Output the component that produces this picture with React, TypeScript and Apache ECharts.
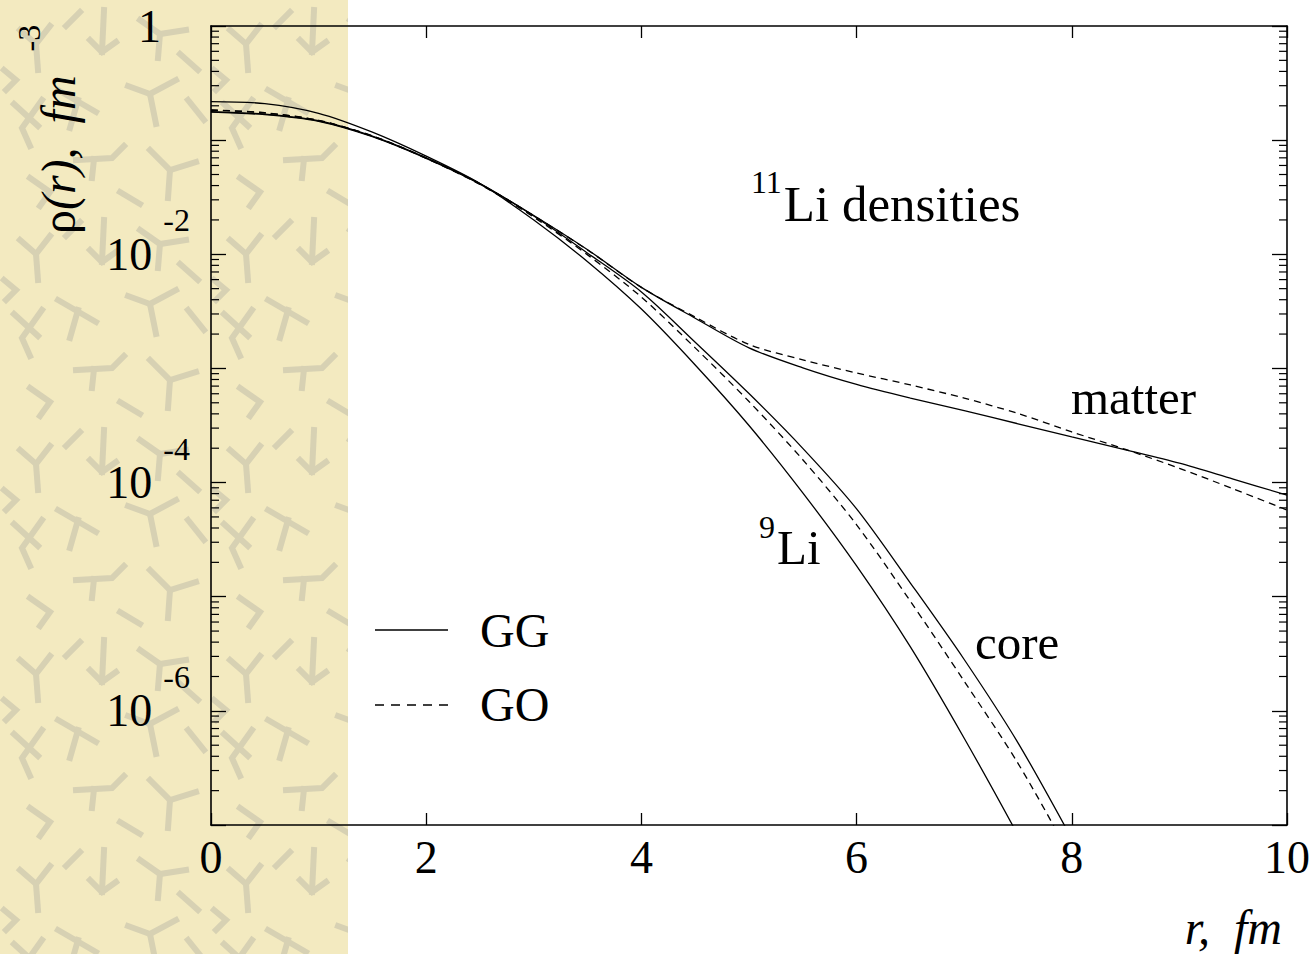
import React, { useEffect, useRef } from 'react';
import * as echarts from 'echarts';

// radius r (fm)
const R = [0, 0.5, 1, 1.5, 2, 2.5, 3, 3.5, 4, 4.5, 5, 5.5, 6, 6.5, 7, 7.5, 8, 8.5, 9, 9.5, 10];

// densities rho(r), fm^-3
const LI9 = [0.2173, 0.2089, 0.1718, 0.1175, 0.07244, 0.04169, 0.01995, 0.00861, 0.003311, 0.001072,
  3.162e-4, 8.128e-5, 1.862e-5, 3.631e-6, 5.754e-7, 8.128e-8, 1.047e-8, null, null, null, null];
const CORE_GG = [0.1758, 0.1671, 0.1462, 0.1072, 0.06918, 0.04121, 0.02163, 0.01023, 0.004677, 0.001698,
  6.026e-4, 1.995e-4, 5.888e-5, 1.318e-5, 2.818e-6, 5.248e-7, 7.586e-8, 1.0e-8, null, null, null];
const CORE_GO = [0.1828, 0.173, 0.1486, 0.1084, 0.06918, 0.04093, 0.02113, 0.009886, 0.004217, 0.001514,
  5.129e-4, 1.585e-4, 4.266e-5, 9.12e-6, 1.82e-6, 3.467e-7, 5.012e-8, 6.0e-9, null, null, null];
const MATTER_GG = [0.1778, 0.169, 0.1479, 0.1084, 0.06998, 0.04169, 0.02188, 0.01096, 0.005129, 0.002754,
  0.001514, 0.001012, 7.244e-4, 5.495e-4, 4.266e-4, 3.273e-4, 2.512e-4, 1.936e-4, 1.479e-4, 1.072e-4, 7.762e-5];
const MATTER_GO = [0.1837, 0.1738, 0.1493, 0.1091, 0.06998, 0.0415, 0.02178, 0.01091, 0.005129, 0.002818,
  0.001622, 0.001189, 9.12e-4, 7.161e-4, 5.495e-4, 4.027e-4, 2.78e-4, 1.95e-4, 1.334e-4, 8.81e-5, 5.754e-5];

const X_TICKS = [0, 2, 4, 6, 8, 10];
const Y_LABEL_EXPONENTS = [0, -2, -4, -6];
const Y_MIN_EXP = -7;
const Y_MAX_EXP = 0;

const FONT = "'Liberation Serif', 'DejaVu Serif', serif";

function toPairs(vals: (number | null)[]) {
  const out: number[][] = [];
  R.forEach((r, i) => {
    const v = vals[i];
    if (v != null) out.push([r, v]);
  });
  return out;
}

function makePattern(): string {
  const c = document.createElement('canvas');
  c.width = 210;
  c.height = 210;
  const g = c.getContext('2d');
  if (!g) return '';
  g.fillStyle = '#F3EAC0';
  g.fillRect(0, 0, 210, 210);
  g.strokeStyle = '#D7D1B3';
  g.lineWidth = 6;
  g.lineCap = 'square';
  g.lineJoin = 'miter';
  const polys: number[][][] = [
    [[20, 30], [36, 44], [50, 26]],
    [[36, 44], [38, 70]],
    [[104, 10], [102, 52]],
    [[90, 40], [102, 52], [116, 42]],
    [[58, 90], [96, 112]],
    [[78, 100], [70, 128]],
    [[14, 104], [38, 126]],
    [[42, 100], [22, 128], [30, 146]],
    [[128, 86], [150, 94], [176, 80]],
    [[150, 94], [156, 124]],
    [[76, 160], [112, 158], [124, 146]],
    [[94, 159], [92, 178]],
    [[66, 26], [80, 12]],
    [[4, 70], [16, 80], [6, 90]],
    [[150, 150], [170, 170], [196, 162]],
    [[170, 170], [168, 198]],
    [[140, 20], [160, 34], [186, 30]],
    [[160, 34], [158, 58]],
    [[188, 100], [204, 120]],
    [[30, 178], [50, 192], [40, 206]],
    [[120, 192], [140, 204]],
    [[180, 54], [198, 70]],
  ];
  polys.forEach((p) => {
    g.beginPath();
    g.moveTo(p[0][0], p[0][1]);
    for (let i = 1; i < p.length; i++) g.lineTo(p[i][0], p[i][1]);
    g.stroke();
  });
  return c.toDataURL();
}

export default function App() {
  const ref = useRef<HTMLDivElement>(null);

  useEffect(() => {
    if (!ref.current) return;
    const chart = echarts.init(ref.current, null, { renderer: 'svg' });

    let patternFill: any = '#F0E7BE';
    try {
      const src = makePattern();
      if (src) patternFill = { image: src, repeat: 'repeat', imageWidth: 210, imageHeight: 210 };
    } catch (e) {
      patternFill = '#F0E7BE';
    }

    const minorVals: number[][] = [];
    for (let d = Y_MIN_EXP; d < Y_MAX_EXP; d++) {
      for (let k = 2; k <= 9; k++) minorVals.push([0, k * Math.pow(10, d)]);
    }

    const lineSeries = (name: string, vals: (number | null)[], dashed: boolean) => ({
      name,
      type: 'line',
      data: toPairs(vals),
      showSymbol: false,
      symbol: 'none',
      smooth: 0.3,
      clip: true,
      silent: true,
      z: 3,
      lineStyle: { color: '#000', width: 1.3, type: dashed ? [7, 5] : 'solid' },
    });

    const axisLineStyle = { color: '#000', width: 1.6 };
    const tickStyle = { color: '#000', width: 1.3 };

    const option: any = {
      animation: false,
      backgroundColor: '#ffffff',
      grid: { left: 211, right: 24, top: 26, bottom: 129, containLabel: false },
      xAxis: [
        {
          type: 'value', min: 0, max: 10, interval: 2, position: 'bottom',
          axisLine: { show: true, onZero: false, lineStyle: axisLineStyle },
          axisTick: { show: true, inside: true, length: 12, lineStyle: tickStyle },
          axisLabel: {
            show: true, margin: 9, fontSize: 46, fontFamily: FONT, color: '#000',
            formatter: (v: number) => (X_TICKS.indexOf(v) >= 0 ? String(v) : ''),
          },
          splitLine: { show: false },
        },
        {
          type: 'value', min: 0, max: 10, interval: 2, position: 'top',
          axisLine: { show: true, onZero: false, lineStyle: axisLineStyle },
          axisTick: { show: true, inside: true, length: 12, lineStyle: tickStyle },
          axisLabel: { show: false },
          splitLine: { show: false },
        },
      ],
      yAxis: [
        {
          type: 'log', logBase: 10, min: 1e-7, max: 1, position: 'left',
          axisLine: { show: true, onZero: false, lineStyle: axisLineStyle },
          axisTick: { show: true, inside: true, length: 15, lineStyle: tickStyle },
          axisLabel: {
            show: true, margin: 21, fontSize: 46, fontFamily: FONT, color: '#000',
            formatter: (v: number) => {
              const e = Math.round(Math.log10(v));
              if (Y_LABEL_EXPONENTS.indexOf(e) < 0) return '';
              if (e === 0) return '{one|1}';
              return '{b|10}{s|' + e + '}';
            },
            rich: {
              one: { fontSize: 46, fontFamily: FONT, color: '#000', lineHeight: 46, padding: [0, 29, 0, 0], verticalAlign: 'middle' },
              b: { fontSize: 46, fontFamily: FONT, color: '#000', lineHeight: 46, verticalAlign: 'middle' },
              s: { fontSize: 32, fontFamily: FONT, color: '#000', lineHeight: 32, padding: [0, 0, 68, 11], verticalAlign: 'middle' },
            },
          },
          splitLine: { show: false },
        },
        {
          type: 'log', logBase: 10, min: 1e-7, max: 1, position: 'right',
          axisLine: { show: true, onZero: false, lineStyle: axisLineStyle },
          axisTick: { show: true, inside: true, length: 15, lineStyle: tickStyle },
          axisLabel: { show: false },
          splitLine: { show: false },
        },
      ],
      series: [
        lineSeries('9Li GG', LI9, false),
        lineSeries('core GG', CORE_GG, false),
        lineSeries('core GO', CORE_GO, true),
        lineSeries('matter GG', MATTER_GG, false),
        lineSeries('matter GO', MATTER_GO, true),
        {
          type: 'custom',
          name: 'minor ticks',
          silent: true,
          data: minorVals,
          z: 4,
          renderItem: (params: any, api: any) => {
            const cs = params.coordSys;
            const y = api.coord([0, api.value(1)])[1];
            return {
              type: 'group',
              children: [
                { type: 'line', shape: { x1: cs.x, y1: y, x2: cs.x + 8, y2: y }, style: { stroke: '#000', lineWidth: 1.2 } },
                { type: 'line', shape: { x1: cs.x + cs.width - 8, y1: y, x2: cs.x + cs.width, y2: y }, style: { stroke: '#000', lineWidth: 1.2 } },
              ],
            };
          },
        },
      ],
      graphic: [
        {
          type: 'rect', x: 0, y: 0, z: -10, silent: true,
          shape: { x: 0, y: 0, width: 348, height: 954 },
          style: { fill: patternFill },
        },
        // legend
        { type: 'line', z: 10, shape: { x1: 375, y1: 630, x2: 448, y2: 630 }, style: { stroke: '#000', lineWidth: 1.5 } },
        { type: 'line', z: 10, shape: { x1: 375, y1: 705, x2: 448, y2: 705 }, style: { stroke: '#000', lineWidth: 1.5, lineDash: [9, 7] } },
        { type: 'text', z: 10, x: 480, y: 630, style: { text: 'GG', fontSize: 48, fontFamily: FONT, fill: '#000', align: 'left', verticalAlign: 'middle' } },
        { type: 'text', z: 10, x: 480, y: 704, style: { text: 'GO', fontSize: 48, fontFamily: FONT, fill: '#000', align: 'left', verticalAlign: 'middle' } },
        // annotations
        {
          type: 'text', z: 10, x: 751, y: 204,
          style: {
            text: '{s|11}{n|Li densities}', align: 'left', verticalAlign: 'middle',
            rich: {
              s: { fontSize: 32, fontFamily: FONT, fill: '#000', lineHeight: 32, padding: [0, 2, 44, 0], verticalAlign: 'middle' },
              n: { fontSize: 51, fontFamily: FONT, fill: '#000', lineHeight: 51, verticalAlign: 'middle' },
            },
          },
        },
        { type: 'text', z: 10, x: 1071, y: 397, style: { text: 'matter', fontSize: 49, fontFamily: FONT, fill: '#000', align: 'left', verticalAlign: 'middle' } },
        {
          type: 'text', z: 10, x: 759, y: 547,
          style: {
            text: '{s|9}{n|Li}', align: 'left', verticalAlign: 'middle',
            rich: {
              s: { fontSize: 32, fontFamily: FONT, fill: '#000', lineHeight: 32, padding: [0, 2, 40, 0], verticalAlign: 'middle' },
              n: { fontSize: 49, fontFamily: FONT, fill: '#000', lineHeight: 49, verticalAlign: 'middle' },
            },
          },
        },
        { type: 'text', z: 10, x: 975, y: 642, style: { text: 'core', fontSize: 49, fontFamily: FONT, fill: '#000', align: 'left', verticalAlign: 'middle' } },
        // axis titles
        {
          type: 'text', z: 10, x: 1282, y: 927,
          style: { text: 'r,  fm', fontSize: 48, fontStyle: 'italic', fontFamily: FONT, fill: '#000', align: 'right', verticalAlign: 'middle' },
        },
        {
          type: 'text', z: 10, x: 58, y: 234, rotation: Math.PI / 2,
          style: {
            text: '{n|ρ}{i|(r),  fm}{s|-3}', align: 'left', verticalAlign: 'middle',
            rich: {
              n: { fontSize: 48, fontFamily: FONT, fill: '#000', lineHeight: 48, verticalAlign: 'middle' },
              i: { fontSize: 48, fontFamily: FONT, fontStyle: 'italic', fill: '#000', lineHeight: 48, verticalAlign: 'middle' },
              s: { fontSize: 32, fontFamily: FONT, fill: '#000', lineHeight: 32, padding: [0, 0, 58, 24], verticalAlign: 'middle' },
            },
          },
        },
      ],
    };

    chart.setOption(option);
    return () => {
      chart.dispose();
    };
  }, []);

  return (
    <div
      ref={ref}
      style={{ position: 'absolute', left: 0, top: 0, width: 1313, height: 954, background: '#fff' }}
    />
  );
}
